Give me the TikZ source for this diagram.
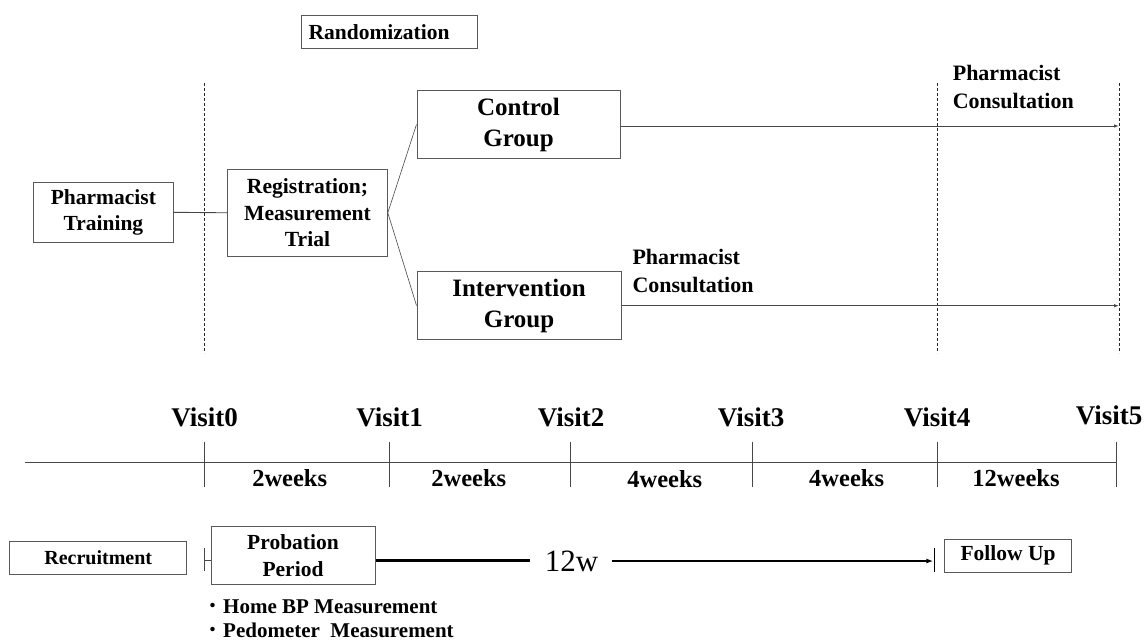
\documentclass[tikz,border=0pt]{standalone}
\usepackage{fontspec}
\setmainfont{Liberation Serif}
\newfontfamily\cjkfont{Noto Sans CJK JP}
\usetikzlibrary{arrows.meta}
\newcommand\fsz[2]{\fontsize{#1}{#2}\selectfont\bfseries}
\tikzset{
  box/.style={draw=black!65, line width=1pt, align=center, inner sep=0pt},
  ln/.style={draw=black!72, line width=0.9pt},
  tl/.style={draw=black, line width=2.3pt},
  dashln/.style={draw=black!85, line width=0.8pt, dash pattern=on 3pt off 2pt},
  lbl/.style={inner sep=0pt, align=center},
  tip/.style={-{Latex[length=5pt,width=3.5pt]}},
}
\begin{document}
\begin{tikzpicture}[x=1pt,y=-1pt]
\useasboundingbox (0,0) rectangle (1147,643);

% top boxes
\node[box, minimum width=176pt, minimum height=33pt, text width=162pt, align=left, font=\fsz{21.5}{26}] (rand) at (389.6,31.8) {Randomization};
\node[box, minimum width=140pt, minimum height=60pt, font=\fsz{21.5}{26.7}] (pt) at (103.4,212.3) {Pharmacist\\Training};
\node[box, minimum width=159.6pt, minimum height=87pt, font=\fsz{21.6}{26.7}] (reg) at (307.5,212.8) {Registration;\\Measurement\\Trial};
\node[box, minimum width=203pt, minimum height=68pt, font=\fsz{25}{31}] (ctrl) at (518.5,124.5) {Control\\Group};
\node[box, minimum width=204pt, minimum height=67.6pt, font=\fsz{25}{31}] (int) at (519,305.5) {Intervention\\Group};

% consultation labels
\node[lbl, anchor=west, align=left, font=\fsz{22}{27.7}] (pc1) at (952.6,87) {Pharmacist\\Consultation};
\node[lbl, anchor=west, align=left, font=\fsz{22}{27.7}] (pc2) at (632.3,271) {Pharmacist\\Consultation};

% dashed lines
\coordinate (d0t) at (204.7,83);  \coordinate (d0b) at (204.7,353);
\coordinate (d4t) at (937.3,83);  \coordinate (d4b) at (937.3,353);
\coordinate (d5t) at (1119.5,83); \coordinate (d5b) at (1119.5,353);
\draw[dashln] (d0t) -- (d0b);
\draw[dashln] (d4t) -- (d4b);
\draw[dashln] (d5t) -- (d5b);

% connectors top
\draw[ln] (pt.east) -- (reg.west);
\draw[ln, line width=0.6pt] (reg.east) -- (ctrl.west);
\draw[ln, line width=0.6pt] (reg.east) -- (int.west);
\coordinate (cend) at (1119,126);
\coordinate (iend) at (1119,305.7);
\draw[ln, tip] (ctrl.east |- cend) -- (cend);
\draw[ln, tip] (int.east |- iend) -- (iend);

% timeline
\coordinate (tstart) at (25,462);
\coordinate (tend) at (1116,462);
\draw[ln, line width=1pt] (tstart) -- (tend);
\foreach \i/\x in {0/204.7,1/389.6,2/570,3/752.8,4/937.3,5/1116}{
  \coordinate (t\i a) at (\x,441.7);
  \coordinate (t\i b) at (\x,486.7);
  \draw[ln, line width=1pt] (t\i a) -- (t\i b);
}
\node[lbl, font=\fsz{27}{30}] (v0) at (204.7,417) {Visit0};
\node[lbl, font=\fsz{27}{30}] (v1) at (389.6,417) {Visit1};
\node[lbl, font=\fsz{27}{30}] (v2) at (571,417) {Visit2};
\node[lbl, font=\fsz{27}{30}] (v3) at (751,417) {Visit3};
\node[lbl, font=\fsz{27}{30}] (v4) at (937,417) {Visit4};
\node[lbl, font=\fsz{27}{30}] (v5) at (1109,415) {Visit5};

\node[lbl, font=\fsz{24.5}{28}] (w1) at (289.7,478.3) {2weeks};
\node[lbl, font=\fsz{24.5}{28}] (w2) at (468.8,478.3) {2weeks};
\node[lbl, font=\fsz{24.5}{28}] (w3) at (664.8,479.5) {4weeks};
\node[lbl, font=\fsz{24.5}{28}] (w4) at (846.6,478.3) {4weeks};
\node[lbl, font=\fsz{24.5}{28}] (w5) at (1016,478.3) {12weeks};

% bottom row
\node[box, minimum width=177pt, minimum height=33pt, font=\fsz{20}{24}] (rec) at (98.2,557.5) {Recruitment};
\node[box, minimum width=164pt, minimum height=58.3pt, font=\fsz{21.5}{27}] (prob) at (293,555.8) {Probation\\Period};
\node[box, minimum width=127.4pt, minimum height=33.3pt, font=\fsz{21.5}{24}] (fu) at (1008,555.7) {Follow Up};

\coordinate (b0a) at (204.7,548);
\coordinate (b0b) at (204.7,571);
\coordinate (b0m) at (204.7,560);
\draw[ln, line width=1pt] (b0a) -- (b0b);
\draw[ln, line width=1pt] (b0m) -- (prob.west |- b0m);

\node[lbl, font=\fontsize{31}{34}\selectfont] (tw) at (571.5,561) {12w};
\coordinate (twl) at (530,560.5);
\coordinate (twr) at (611.7,561);
\coordinate (aend) at (933.3,561);
\draw[tl] (prob.east |- twl) -- (twl);
\draw[tl, -{Latex[length=7pt,width=5pt]}] (twr) -- (aend);
\coordinate (b4a) at (934.5,548);
\coordinate (b4b) at (934.5,571.7);
\draw[draw=black, line width=1.2pt] (b4a) -- (b4b);

\node[lbl, anchor=west, align=left, font=\fsz{21}{23.7}] (bul) at (202,618.8)
  {{\cjkfont\mdseries ・}Home BP Measurement\\{\cjkfont\mdseries ・}Pedometer\ \ Measurement};
\end{tikzpicture}
\end{document}
